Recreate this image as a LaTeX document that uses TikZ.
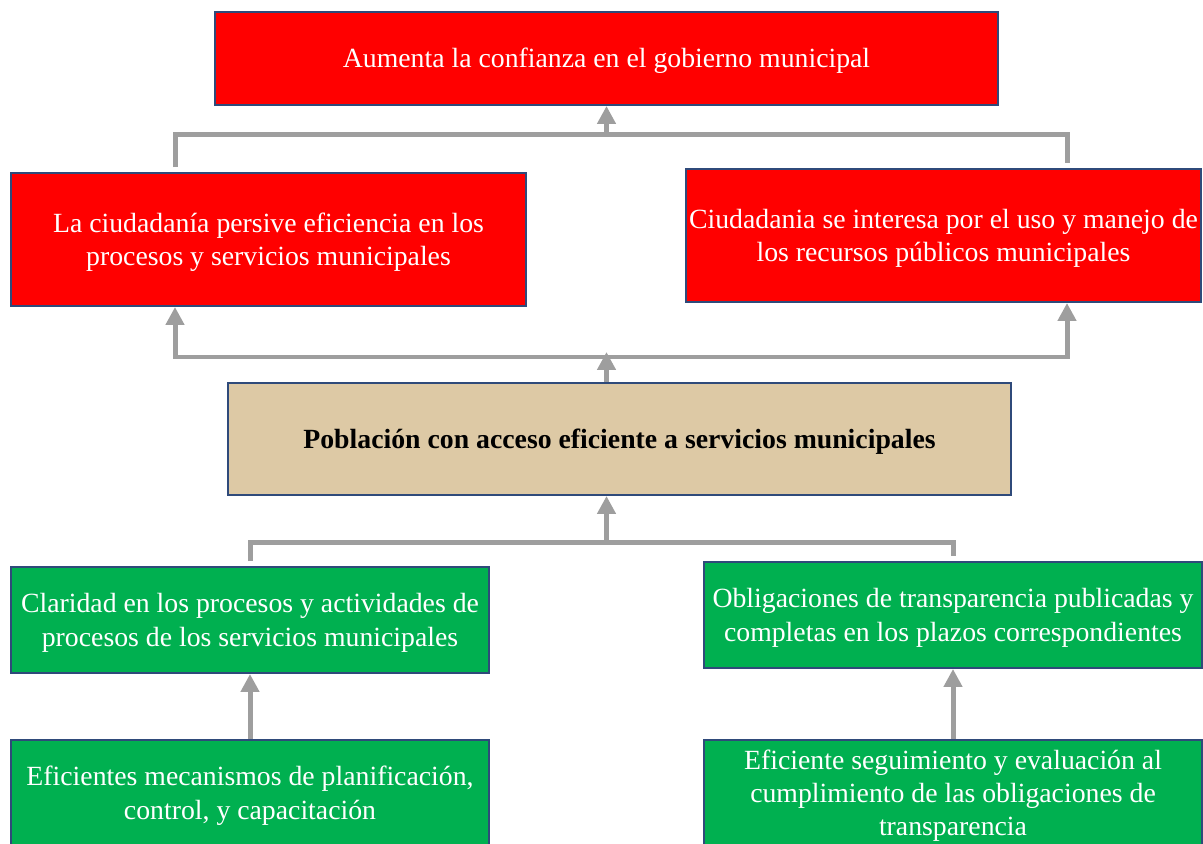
\documentclass[tikz,border=0pt]{standalone}
\usepackage{fontspec}
\setmainfont{Liberation Serif}
\usetikzlibrary{arrows.meta}

\definecolor{boxred}{HTML}{FF0000}
\definecolor{boxgreen}{HTML}{00B050}
\definecolor{boxtan}{HTML}{DDC9A5}
\definecolor{boxline}{HTML}{2F4A7A}
\definecolor{linkgray}{HTML}{9E9E9E}

\tikzset{
  box/.style={draw=boxline, line width=0.04cm, inner sep=1pt, align=center,
    font=\fontsize{15.8}{19}\selectfont, text height=14.1pt, text depth=3.4pt},
  twolines/.style={text height=33.1pt},
  threelines/.style={text height=52.1pt},
  redbox/.style={box, twolines, fill=boxred, text=white, minimum height=2.66cm},
  greenbox/.style={box, twolines, fill=boxgreen, text=white, minimum height=2.12cm},
  bus/.style={draw=linkgray, line width=0.1cm, shorten <=0.1cm, shorten >=0.1cm},
  link/.style={draw=linkgray, line width=0.1cm,
    -{Triangle[length=0.36cm, width=0.36cm]}},
  twolink/.style={draw=linkgray, line width=0.1cm,
    {Triangle[length=0.36cm, width=0.36cm]}-{Triangle[length=0.36cm, width=0.36cm]}}
}

\begin{document}
\begin{tikzpicture}[x=0.02cm, y=-0.02cm]
\useasboundingbox (0,0) rectangle (1203,844);

% boxes
\node [box, fill=boxred, text=white, minimum width=15.66cm, minimum height=1.86cm] (top) at (606.5,58.5)
  {Aumenta la confianza en el gobierno municipal};
\node [redbox, minimum width=10.3cm] (persive) at (268.5,239.5)
  {La ciudadanía persive eficiencia en los\\procesos y servicios municipales};
\node [redbox, minimum width=10.3cm] (interesa) at (943.5,235.5)
  {Ciudadania se interesa por el uso y manejo de\\los recursos públicos municipales};
\node [box, fill=boxtan, minimum width=15.66cm, minimum height=2.24cm, font=\fontsize{15.8}{19}\selectfont\bfseries] (poblacion) at (619.5,439)
  {Población con acceso eficiente a servicios municipales};
\node [greenbox, minimum width=9.56cm] (claridad) at (250,620)
  {Claridad en los procesos y actividades de\\procesos de los servicios municipales};
\node [greenbox, minimum width=9.96cm] (obligaciones) at (953,615)
  {Obligaciones de transparencia publicadas y\\completas en los plazos correspondientes};
\node [greenbox, minimum width=9.56cm] (mecanismos) at (250,793)
  {Eficientes mecanismos de planificación,\\control, y capacitación};
\node [greenbox, threelines, minimum width=9.96cm] (seguimiento) at (953,793)
  {Eficiente seguimiento y evaluación al\\cumplimiento de las obligaciones de\\transparencia};

% junction points
\coordinate (upL) at (175,134.5);
\coordinate (upR) at (1067,134.5);
\coordinate (midL) at (175,357);
\coordinate (midR) at (1067,357);
\coordinate (lowL) at (251,542);
\coordinate (lowR) at (953,542);

% connectors
\draw [bus] (persive.north -| upL) -- (upL) -- (upR) -- (interesa.north -| upR);
\draw [link] (top.south |- upL) -- (top.south);
\draw [twolink] (persive.south -| midL) -- (midL) -- (midR) -- (interesa.south -| midR);
\draw [link, shorten >=-0.1cm] (poblacion.north -| top.south) -- (midL -| top.south);
\draw [bus] (claridad.north) |- (lowR) -- (obligaciones.north);
\draw [link] (lowL -| top.south) -- (poblacion.south -| top.south);
\draw [link] (mecanismos.north) -- (claridad.south);
\draw [link] (seguimiento.north) -- (obligaciones.south);
\end{tikzpicture}
\end{document}
